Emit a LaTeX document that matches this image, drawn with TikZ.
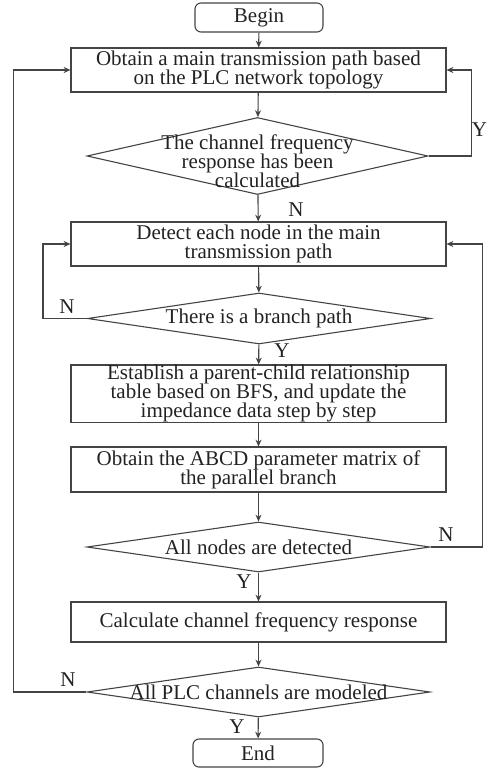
\documentclass[tikz,border=0pt]{standalone}
\usepackage{fontspec}
\setmainfont{Liberation Serif}
\usetikzlibrary{shapes.geometric,arrows.meta}
\definecolor{ink}{HTML}{222222}
\definecolor{wire}{HTML}{444444}
\newcommand{\boxfont}[1]{\fontsize{10.5}{#1}\selectfont\lineskiplimit=-6pt\lineskip=0pt}

\begin{document}
\begin{tikzpicture}[x=0.5pt,y=-0.5pt,font=\boxfont{9.5},text=ink,line width=0.55pt,
  proc/.style={draw=wire,rectangle,minimum width=187.5pt,align=center,inner sep=0pt},
  term/.style={draw=wire,rectangle,rounded corners=3pt,minimum width=64pt,minimum height=14.5pt,inner sep=0pt},
  dec/.style={draw=wire,diamond,minimum width=171.5pt,inner sep=0pt},
  arr/.style={draw=wire,-{Stealth[length=3.4pt,width=3pt]}},
  yn/.style={inner sep=0pt}]
  \useasboundingbox (0,0) rectangle (487,776);
  % boxes
  \node[term] (begin) at (259,17.5){Begin};
  \node[proc,minimum height=22pt] (obtain) at (258.5,70){Obtain a main transmission path based\\on the PLC network topology};
  \node[dec,minimum width=170.5pt,minimum height=38.5pt,
    label={[align=center,yshift=-2.5pt]center:The channel frequency\\response has been\\calculated}] (check) at (257.5,156){};
  \node[proc,minimum height=22pt] (detect) at (258.5,244){Detect each node in the main\\transmission path};
  \node[dec,minimum height=25.5pt,label={center:There is a branch path}] (branch) at (259,318.5){};
  \node[proc,minimum height=28pt] (table) at (258.5,393.5){Establish a parent-child relationship\\table based on BFS, and update the\\impedance data step by step};
  \node[proc,minimum height=22.5pt] (abcd) at (258.5,469.5){Obtain the ABCD parameter matrix of\\the parallel branch};
  \node[dec,minimum height=25pt,label={center:All nodes are detected}] (alldet) at (258.5,547){};
  \node[proc,minimum height=20pt] (calc) at (258.5,622){Calculate channel frequency response};
  \node[dec,minimum height=25pt,label={center:All PLC channels are modeled}] (allplc) at (258.5,692){};
  \node[term,minimum width=65pt,minimum height=14pt] (end) at (258,753){End};
  % main flow
  \draw[arr] (begin) -- (obtain);
  \draw[arr] (obtain) -- (check);
  \draw[arr] (check) -- (detect);
  \draw[arr] (detect) -- (branch);
  \draw[arr] (branch) -- (table);
  \draw[arr] (table) -- (abcd);
  \draw[arr] (abcd) -- (alldet);
  \draw[arr] (alldet) -- (calc);
  \draw[arr] (calc) -- (allplc);
  \draw[arr] (allplc) -- (end);
  % loops back
  \draw[arr] (check.east) -- ++(42.5,0) |- (obtain.east);
  \draw[arr] (branch.west) -- ++(-44,0) |- (detect.west);
  \draw[arr] (alldet.east) -- ++(52,0) |- (detect.east);
  \draw[arr] (allplc.west) -- ++(-73,0) |- (obtain.west);
  % Y / N
  \node[yn,anchor=east] (y1) at (487.5,130){Y};
  \node[yn] (n1) at (296,210){N};
  \node[yn] (n2) at (67,307){N};
  \node[yn] (y2) at (282,351){Y};
  \node[yn] (n3) at (446,535){N};
  \node[yn] (y3) at (244,582){Y};
  \node[yn] (n4) at (68,680){N};
  \node[yn] (y4) at (237,727){Y};
\end{tikzpicture}
\end{document}
